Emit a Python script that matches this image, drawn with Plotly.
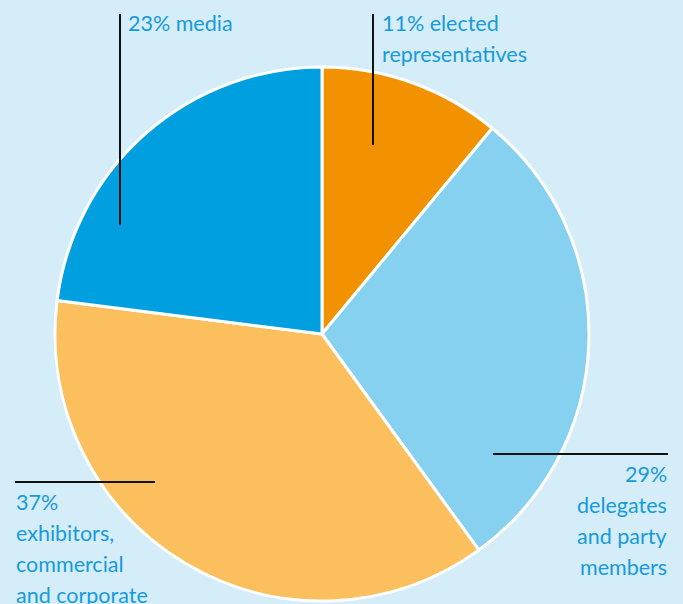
import plotly.graph_objects as go

W, H = 683, 604

categories = ["elected representatives", "delegates and party members",
              "exhibitors, commercial and corporate", "media"]
values = [11, 29, 37, 23]
colors = ["#f39200", "#86d0f0", "#fbbf5e", "#009fe0"]

label_media = ["23% media"]
label_elected = ["11% elected", "representatives"]
label_delegates = ["29%", "delegates", "and party", "members"]
label_exhib = ["37%", "exhibitors,", "commercial", "and corporate"]

TXT = "#169bdc"
FONT = "Lato"
FS = 21.5
LH = 31

cx, cy, r = 322, 334, 267

def px(x):
    return x / W

def py(y):
    return 1 - y / H

fig = go.Figure(go.Pie(
    labels=categories, values=values, sort=False, direction="clockwise",
    rotation=0, marker=dict(colors=colors, line=dict(color="white", width=3)),
    textinfo="none", hoverinfo="label+percent", showlegend=False,
    domain=dict(x=[px(cx - r), px(cx + r)], y=[py(cy + r), py(cy - r)]),
))

shapes = []
def line(x0, y0, x1, y1):
    shapes.append(dict(type="line", xref="paper", yref="paper",
                       x0=px(x0), y0=py(y0), x1=px(x1), y1=py(y1),
                       line=dict(color="#111111", width=2)))

line(120, 14, 120, 225)
line(373, 14, 373, 145)
line(493, 454, 668, 454)
line(15, 482, 155, 482)

ann = []
def text_block(lines, x, y_first, anchor):
    for i, t in enumerate(lines):
        ann.append(dict(text=t, xref="paper", yref="paper", x=px(x),
                        y=py(y_first + i * LH), xanchor=anchor, yanchor="middle",
                        showarrow=False, font=dict(family=FONT, size=FS, color=TXT)))

text_block(label_media, 126, 23, "left")
text_block(label_elected, 380, 23, "left")
text_block(label_delegates, 669, 474, "right")
text_block(label_exhib, 14, 502, "left")

fig.update_layout(
    width=W, height=H, margin=dict(l=0, r=0, t=0, b=0),
    paper_bgcolor="#d5ecf9", plot_bgcolor="#d5ecf9",
    shapes=shapes, annotations=ann,
)
fig.write_html("out.html", config={"displayModeBar": False},
               post_script="document.body.style.margin='0';document.body.style.overflow='hidden';")
